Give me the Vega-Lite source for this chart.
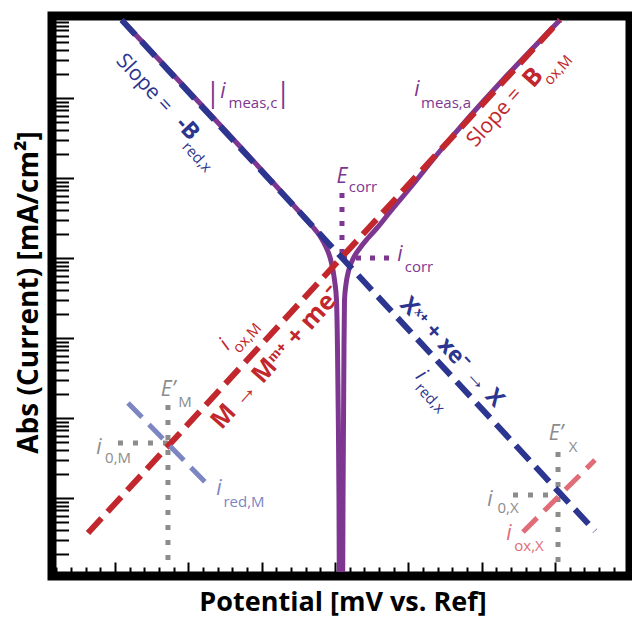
{
  "$schema": "https://vega.github.io/schema/vega-lite/v6.json",
  "width": 578,
  "height": 560,
  "autosize": {"type": "none"},
  "padding": {"left": 52, "top": 16, "right": 2, "bottom": 41},
  "background": "white",
  "config": {"view": {"stroke": "black", "strokeWidth": 9}, "font": "Open Sans"},
  "encoding": {
    "x": {
      "field": "E", "type": "quantitative",
      "scale": {"domain": [-386, 402.5], "nice": false, "zero": false},
      "axis": {
        "values": [-380,-360,-340,-320,-300,-280,-260,-240,-220,-200,-180,-160,-140,-120,-100,-80,-60,-40,-20,0,20,40,60,80,100,120,140,160,180,200,220,240,260,280,300,320,340,360,380,400],
        "tickSize": {"condition": {"test": "datum.value % 100 === 0", "value": -14}, "value": -9},
        "tickWidth": 2, "tickColor": "black", "labels": false, "domain": false, "grid": false,
        "title": "Potential [mV vs. Ref]", "titleFont": "Open Sans", "titleFontSize": 27, "titleFontWeight": "bold",
        "titleColor": "black", "titleX": 290.5, "titleY": 34, "titleBaseline": "alphabetic", "titleAlign": "center"
      }
    },
    "y": {
      "field": "I", "type": "quantitative",
      "scale": {"type": "log", "domain": [1.0593e-7, 1.0593], "nice": false},
      "axis": {
        "values": [2e-7,3e-7,4e-7,5e-7,6e-7,7e-7,8e-7,9e-7,1e-6,2e-6,3e-6,4e-6,5e-6,6e-6,7e-6,8e-6,9e-6,1e-5,2e-5,3e-5,4e-5,5e-5,6e-5,7e-5,8e-5,9e-5,1e-4,2e-4,3e-4,4e-4,5e-4,6e-4,7e-4,8e-4,9e-4,1e-3,2e-3,3e-3,4e-3,5e-3,6e-3,7e-3,8e-3,9e-3,1e-2,2e-2,3e-2,4e-2,5e-2,6e-2,7e-2,8e-2,9e-2,0.1,0.2,0.3,0.4,0.5,0.6,0.7,0.8,0.9,1],
        "tickSize": {"condition": {"test": "abs(log(datum.value)/LN10 - round(log(datum.value)/LN10)) < 0.001", "value": -21.5}, "value": -16.5},
        "tickWidth": 2, "tickColor": "black", "labels": false, "domain": false, "grid": false,
        "title": "Abs (Current) [mA/cm²]", "titleFont": "Open Sans", "titleFontSize": 28, "titleFontWeight": "bold",
        "titleColor": "black", "titleAngle": -90, "titleX": -14.5, "titleY": 276, "titleBaseline": "alphabetic", "titleAlign": "center"
      }
    }
  },
  "layer": [
    {
      "data": {"values": [
        {"E": -227.8, "I": 1.454e-5, "E2": -227.8, "I2": 1.585e-7},
        {"E": -296.0, "I": 4.870e-6, "E2": -227.8, "I2": 4.870e-6},
        {"E": 304.3, "I": 3.758e-6, "E2": 304.3, "I2": 1.585e-7},
        {"E": 242.9, "I": 1.090e-6, "E2": 304.3, "I2": 1.090e-6}
      ]},
      "mark": {"type": "rule", "color": "#8c8c8c", "strokeWidth": 5, "strokeDash": [5, 10], "strokeCap": "butt"},
      "encoding": {"x2": {"field": "E2"}, "y2": {"field": "I2"}}
    },
    {
      "data": {"values": [
        {"E": 9.6, "I": 6.494e-3, "E2": 9.6, "I2": 1e-3},
        {"E": 9.6, "I": 1e-3, "E2": 75.1, "I2": 1e-3}
      ]},
      "mark": {"type": "rule", "color": "#7d3791", "strokeWidth": 5, "strokeDash": [5, 9], "strokeCap": "butt"},
      "encoding": {"x2": {"field": "E2"}, "y2": {"field": "I2"}}
    },
    {
      "data": {"values": [
        {"branch": "L", "k": 1, "E": -290.9, "I": 0.9441},
        {"branch": "L", "k": 2, "E": -47.7, "I": 3.707e-3},
        {"branch": "L", "k": 3, "E": -31.3, "I": 2.512e-3},
        {"branch": "L", "k": 4, "E": -20.4, "I": 1.884e-3},
        {"branch": "L", "k": 5, "E": -12.2, "I": 1.372e-3},
        {"branch": "L", "k": 6, "E": -5.4, "I": 9.173e-4},
        {"branch": "L", "k": 7, "E": -0.6, "I": 5.309e-4},
        {"branch": "L", "k": 8, "E": 2.1, "I": 2.985e-4},
        {"branch": "L", "k": 9, "E": 3.5, "I": 7.079e-5},
        {"branch": "L", "k": 10, "E": 4.6, "I": 9.441e-6},
        {"branch": "L", "k": 11, "E": 5.5, "I": 9.441e-7},
        {"branch": "L", "k": 12, "E": 5.9, "I": 1.189e-7},
        {"branch": "R", "k": 1, "E": 10.6, "I": 1.189e-7},
        {"branch": "R", "k": 2, "E": 11.0, "I": 9.441e-7},
        {"branch": "R", "k": 3, "E": 11.7, "I": 9.441e-6},
        {"branch": "R", "k": 4, "E": 12.3, "I": 7.079e-5},
        {"branch": "R", "k": 5, "E": 13.0, "I": 2.985e-4},
        {"branch": "R", "k": 6, "E": 15.1, "I": 4.732e-4},
        {"branch": "R", "k": 7, "E": 18.5, "I": 6.879e-4},
        {"branch": "R", "k": 8, "E": 24.6, "I": 9.716e-4},
        {"branch": "R", "k": 9, "E": 34.2, "I": 1.334e-3},
        {"branch": "R", "k": 10, "E": 45.1, "I": 1.778e-3},
        {"branch": "R", "k": 11, "E": 57.4, "I": 2.371e-3},
        {"branch": "R", "k": 12, "E": 75.1, "I": 3.758e-3},
        {"branch": "R", "k": 13, "E": 102.4, "I": 7.499e-3},
        {"branch": "R", "k": 14, "E": 143.3, "I": 2.175e-2},
        {"branch": "R", "k": 15, "E": 307.0, "I": 0.9441}
      ]},
      "mark": {"type": "line", "color": "#7d3791", "strokeWidth": 5, "interpolate": "monotone"},
      "encoding": {"detail": {"field": "branch"}, "order": {"field": "k", "type": "quantitative"}}
    },
    {
      "data": {"values": [{"E": -336.9, "I": 3.651e-7}, {"E": 307.0, "I": 0.9441}]},
      "mark": {"type": "line", "color": "#c1272d", "strokeWidth": 6, "strokeDash": [20, 9], "strokeCap": "butt"},
      "encoding": {}
    },
    {
      "data": {"values": [{"E": -290.9, "I": 0.9441}, {"E": 354.7, "I": 3.868e-7}]},
      "mark": {"type": "line", "color": "#2c358f", "strokeWidth": 6, "strokeDash": [20, 9], "strokeCap": "butt"},
      "encoding": {}
    },
    {
      "data": {"values": [{"E": -282.3, "I": 1.540e-5}, {"E": -173.2, "I": 1.454e-6}]},
      "mark": {"type": "line", "color": "#7c86c2", "strokeWidth": 5, "strokeDash": [20, 10], "strokeCap": "butt"},
      "encoding": {}
    },
    {
      "data": {"values": [{"E": 256.5, "I": 3.758e-7}, {"E": 354.7, "I": 2.985e-6}]},
      "mark": {"type": "line", "color": "#e06c78", "strokeWidth": 5, "strokeDash": [20, 10], "strokeCap": "butt"},
      "encoding": {}
    },
    {
      "data": {"values": [
        {"E": -152.7, "I": 0.1189, "t": "i"},
        {"E": 111.9, "I": 0.1259, "t": "i"},
        {"E": 88.7, "I": 0.001090, "t": "i"},
        {"E": 9.6, "I": 0.01029, "t": "E"}
      ]},
      "mark": {"type": "text", "font": "Open Sans", "fontSize": 21, "fontStyle": "italic", "fill": "#7d3791", "align": "center", "baseline": "middle"},
      "encoding": {"text": {"field": "t"}}
    },
    {
      "data": {"values": [
        {"E": -111.8, "I": 0.0866, "t": "meas,c"},
        {"E": 151.5, "I": 0.0866, "t": "meas,a"},
        {"E": 38.2, "I": 0.00772, "t": "corr"},
        {"E": 114.6, "I": 7.718e-4, "t": "corr"}
      ]},
      "mark": {"type": "text", "font": "Open Sans", "fontSize": 15, "fill": "#7d3791", "align": "center", "baseline": "middle"},
      "encoding": {"text": {"field": "t"}}
    },
    {
      "data": {"values": [
        {"E": -166.4, "I": 0.1122, "t": "|"},
        {"E": -70.8, "I": 0.1122, "t": "|"}
      ]},
      "mark": {"type": "text", "font": "Open Sans", "fontSize": 27, "fill": "#7d3791", "align": "center", "baseline": "middle"},
      "encoding": {"text": {"field": "t"}}
    },
    {
      "data": {"values": [
        {"E": -227.8, "I": 2.239e-5, "t": "E’"},
        {"E": -321.9, "I": 4.217e-6, "t": "i"},
        {"E": 301.5, "I": 6.310e-6, "t": "E’"},
        {"E": 211.5, "I": 9.441e-7, "t": "i"}
      ]},
      "mark": {"type": "text", "font": "Open Sans", "fontSize": 21, "fontStyle": "italic", "fill": "#8c8c8c", "align": "center", "baseline": "middle"},
      "encoding": {"text": {"field": "t"}}
    },
    {
      "data": {"values": [
        {"E": -204.6, "I": 1.585e-5, "t": "M"},
        {"E": -295.9, "I": 3.162e-6, "t": "0,M"},
        {"E": 324.8, "I": 4.341e-6, "t": "X"},
        {"E": 236.1, "I": 7.499e-7, "t": "0,X"}
      ]},
      "mark": {"type": "text", "font": "Open Sans", "fontSize": 15, "fill": "#8c8c8c", "align": "center", "baseline": "middle"},
      "encoding": {"text": {"field": "t"}}
    },
    {
      "data": {"values": [{"E": -158.2, "I": 1.296e-6, "t": "i"}]},
      "mark": {"type": "text", "font": "Open Sans", "fontSize": 21, "fontStyle": "italic", "fill": "#7c86c2", "align": "center", "baseline": "middle"},
      "encoding": {"text": {"field": "t"}}
    },
    {
      "data": {"values": [{"E": -124.1, "I": 8.913e-7, "t": "red,M"}]},
      "mark": {"type": "text", "font": "Open Sans", "fontSize": 15, "fill": "#7c86c2", "align": "center", "baseline": "middle"},
      "encoding": {"text": {"field": "t"}}
    },
    {
      "data": {"values": [{"E": 237.4, "I": 3.548e-7, "t": "i"}]},
      "mark": {"type": "text", "font": "Open Sans", "fontSize": 21, "fontStyle": "italic", "fill": "#e06c78", "align": "center", "baseline": "middle"},
      "encoding": {"text": {"field": "t"}}
    },
    {
      "data": {"values": [{"E": 264.7, "I": 2.512e-7, "t": "ox,X"}]},
      "mark": {"type": "text", "font": "Open Sans", "fontSize": 15, "fill": "#e06c78", "align": "center", "baseline": "middle"},
      "encoding": {"text": {"field": "t"}}
    },
    {
      "data": {"values": [{"E": -260.5, "I": 0.1518, "t": "Slope ="}]},
      "mark": {"type": "text", "font": "Open Sans", "fontSize": 21, "fill": "#2c358f", "align": "center", "baseline": "middle", "angle": 47},
      "encoding": {"text": {"field": "t"}}
    },
    {
      "data": {"values": [
        {"E": -201.2, "I": 0.04157, "t": "-B"},
        {"E": 159.7, "I": 6.683e-5, "t": "Xˣ⁺ + xe⁻ → X"}
      ]},
      "mark": {"type": "text", "font": "Open Sans", "fontSize": 23, "fontWeight": "bold", "fill": "#2c358f", "align": "center", "baseline": "middle", "angle": 47},
      "encoding": {"text": {"field": "t"}}
    },
    {
      "data": {"values": [
        {"E": -188.2, "I": 0.01831, "t": "red,x"},
        {"E": 129.7, "I": 1.778e-5, "t": "red,x"}
      ]},
      "mark": {"type": "text", "font": "Open Sans", "fontSize": 15, "fill": "#2c358f", "align": "center", "baseline": "middle", "angle": 47},
      "encoding": {"text": {"field": "t"}}
    },
    {
      "data": {"values": [{"E": 117.4, "I": 3.447e-5, "t": "i"}]},
      "mark": {"type": "text", "font": "Open Sans", "fontSize": 21, "fontStyle": "italic", "fill": "#2c358f", "align": "center", "baseline": "middle", "angle": 47},
      "encoding": {"text": {"field": "t"}}
    },
    {
      "data": {"values": [{"E": 218.3, "I": 0.05704, "t": "Slope ="}]},
      "mark": {"type": "text", "font": "Open Sans", "fontSize": 21, "fill": "#c1272d", "align": "center", "baseline": "middle", "angle": -48},
      "encoding": {"text": {"field": "t"}}
    },
    {
      "data": {"values": [
        {"E": 270.2, "I": 0.1804, "t": "B"},
        {"E": -80.4, "I": 5.623e-5, "t": "M → Mᵐ⁺ + me⁻"}
      ]},
      "mark": {"type": "text", "font": "Open Sans", "fontSize": 25, "fontWeight": "bold", "fill": "#c1272d", "align": "center", "baseline": "middle", "angle": -48},
      "encoding": {"text": {"field": "t"}}
    },
    {
      "data": {"values": [
        {"E": 304.3, "I": 0.2239, "t": "ox,M"},
        {"E": -120.0, "I": 1e-4, "t": "ox,M"}
      ]},
      "mark": {"type": "text", "font": "Open Sans", "fontSize": 15, "fill": "#c1272d", "align": "center", "baseline": "middle", "angle": -48},
      "encoding": {"text": {"field": "t"}}
    },
    {
      "data": {"values": [{"E": -150.0, "I": 8.175e-5, "t": "i"}]},
      "mark": {"type": "text", "font": "Open Sans", "fontSize": 21, "fontStyle": "italic", "fill": "#c1272d", "align": "center", "baseline": "middle", "angle": -48},
      "encoding": {"text": {"field": "t"}}
    }
  ]
}
